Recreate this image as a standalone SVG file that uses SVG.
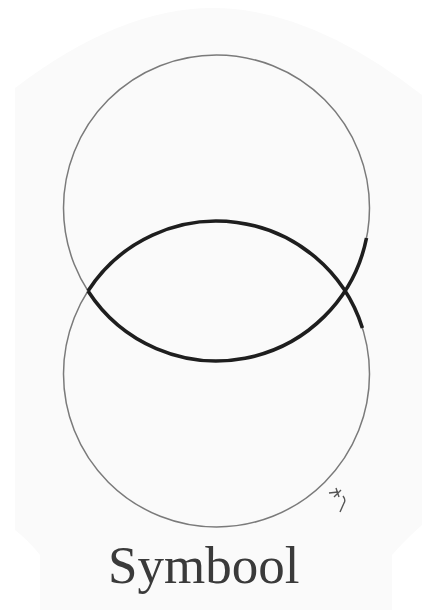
<svg xmlns="http://www.w3.org/2000/svg" width="427" height="610" viewBox="0 0 427 610">
<style>
.circle{fill:none;stroke:#7a7a7a;stroke-width:1.5}
.fish{fill:none;stroke:#1e1e1e;stroke-width:3.6;stroke-linecap:butt}
.label{font-family:"Liberation Serif","DejaVu Serif",serif;font-size:53px;fill:#3a3a3a}
</style>
<rect x="0" y="0" width="427" height="610" fill="#ffffff"/>
<path id="paper" d="M15 88 Q120 8 213 8 Q310 8 422 95 L422 525 Q405 540 392 555 L392 610 L40 610 L40 555 Q28 540 15 530 Z" fill="#fafafa"/>
<g id="top-circle"><circle class="circle" cx="216.5" cy="208" r="153"/></g>
<g id="bottom-circle"><circle class="circle" cx="216.5" cy="374" r="153"/></g>
<g id="fish">
<path class="fish" d="M88 291 A153 153 0 0 1 362.4 328"/>
<path class="fish" d="M88 291 A153 153 0 0 0 366.5 238"/>
</g>
<g id="signature"><path d="M329 493 L338 492 M336 488 L339 497 M334 497 L341 490 M343 496 Q346 500 344 503 L340 512" fill="none" stroke="#555" stroke-width="1.4"/></g>
<g id="title"><text class="label" x="108" y="583">Symbool</text></g>
</svg>
